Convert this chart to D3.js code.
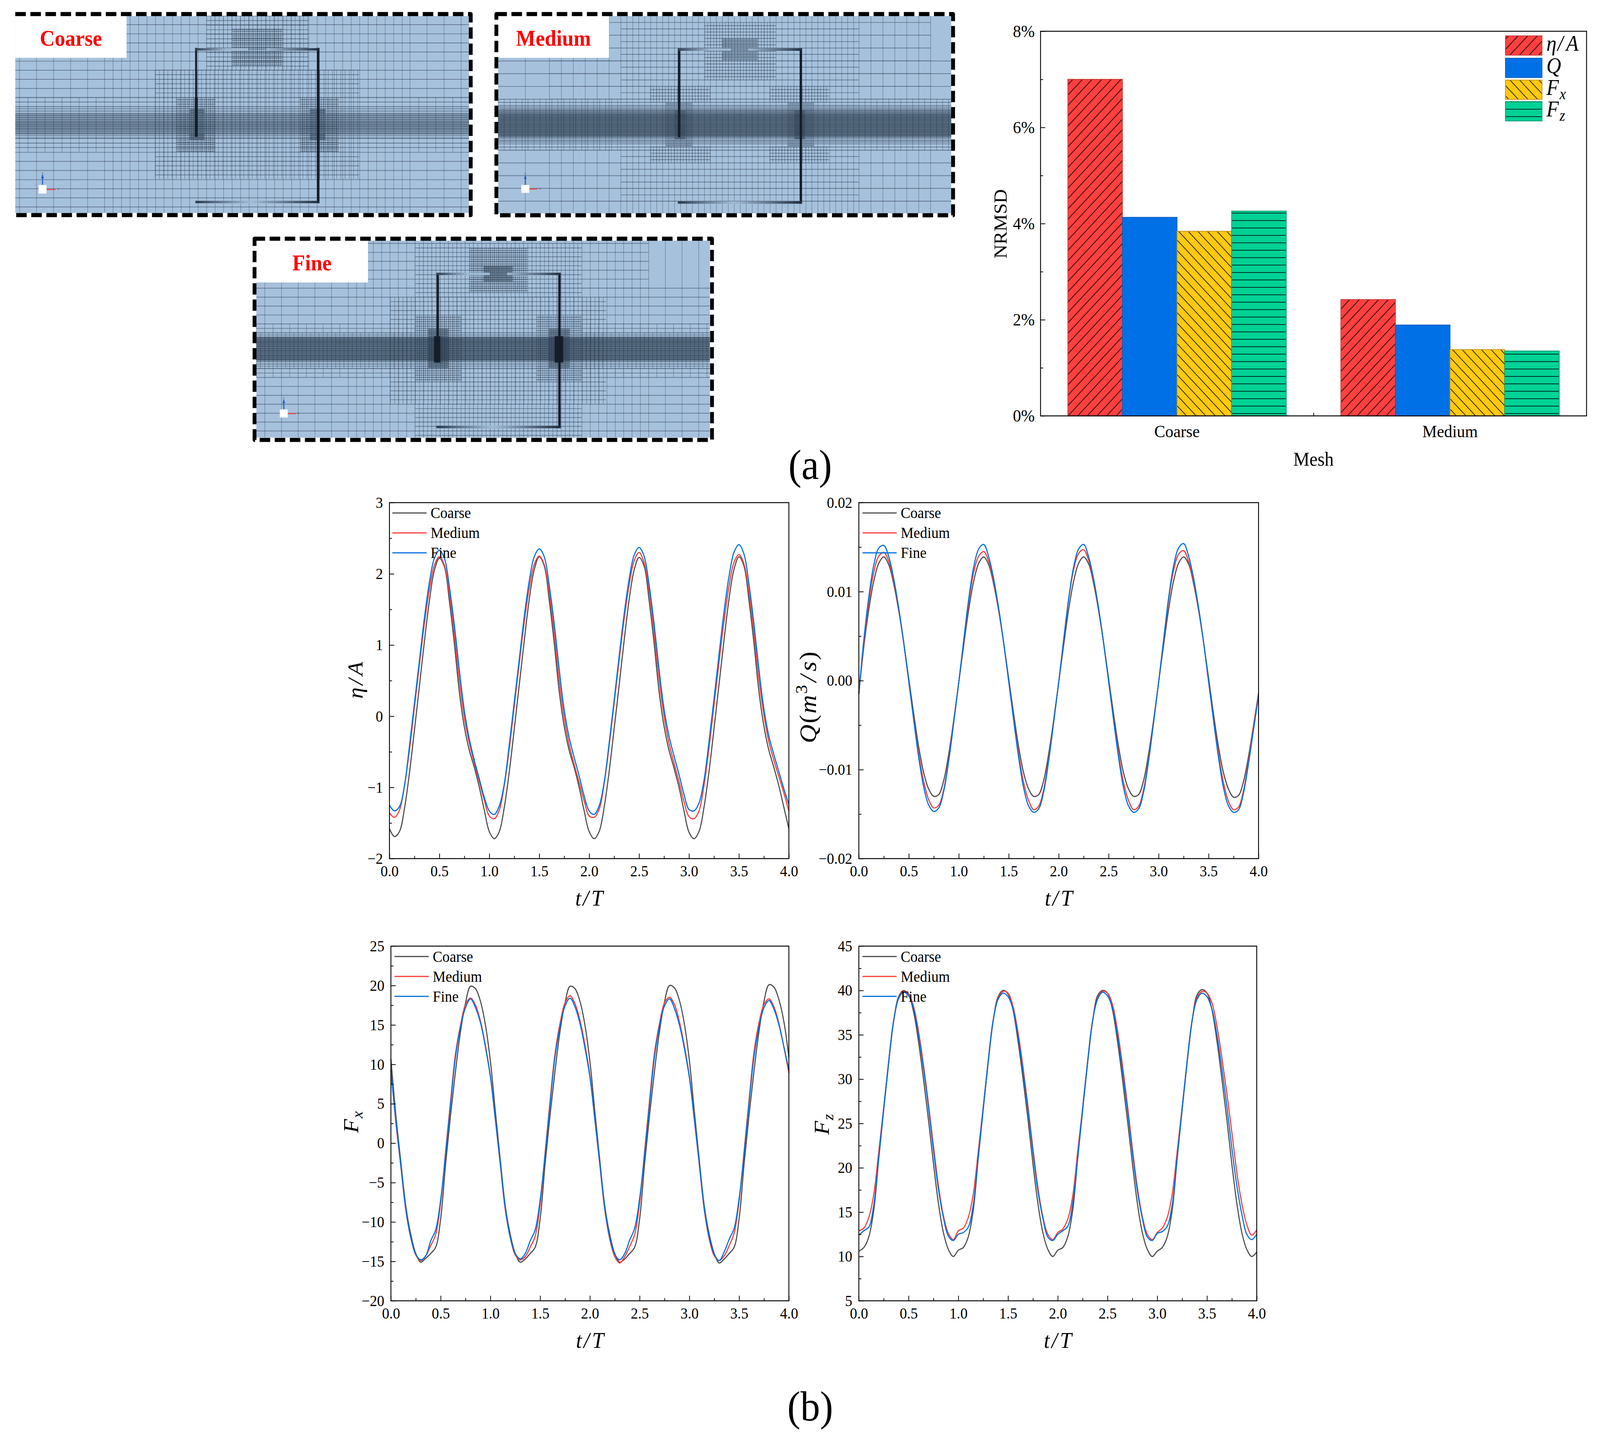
<!DOCTYPE html>
<html>
<head>
<meta charset="utf-8">
<script src="https://d3js.org/d3.v7.min.js"></script>
<style>
html, body { margin: 0; padding: 0; background: #fff; overflow: hidden; }
text { font-family: "Liberation Serif", serif; fill: #000; }
.domain { display: none; }
</style>
</head>
<body>
<script>
// ---- bar chart values (percent) ----
var meshNames = ["Coarse", "Medium"];
var barKeys = ["eta", "q", "fx", "fz"];
var nrmsdEta = [7.0, 2.42];
var nrmsdQ = [4.13, 1.89];
var nrmsdFx = [3.84, 1.38];
var nrmsdFz = [4.26, 1.35];

// ---- time histories, sampled every 0.05 t/T ----
var tValues = d3.range(81).map(function (i) { return i * 0.05; });

var etaCoarse = [-1.58,-1.69,-1.62,-1.30,-0.80,-0.20,0.42,1.05,1.62,2.05,2.22,2.10,1.62,1.02,0.34,-0.15,-0.48,-0.72,-1.00,-1.32,-1.62,
  -1.72,-1.62,-1.28,-0.78,-0.18,0.44,1.06,1.64,2.06,2.24,2.11,1.63,1.03,0.35,-0.14,-0.48,-0.72,-1.00,-1.33,-1.62,
  -1.72,-1.62,-1.28,-0.78,-0.18,0.43,1.06,1.63,2.05,2.23,2.11,1.63,1.03,0.35,-0.14,-0.48,-0.73,-1.00,-1.33,-1.63,
  -1.72,-1.62,-1.28,-0.78,-0.18,0.44,1.06,1.64,2.06,2.24,2.11,1.63,1.03,0.35,-0.14,-0.48,-0.72,-0.98,-1.28,-1.58];
var etaMedium = [-1.36,-1.42,-1.32,-0.98,-0.48,0.12,0.72,1.30,1.78,2.12,2.24,2.12,1.72,1.15,0.50,-0.02,-0.38,-0.66,-0.92,-1.18,-1.40,
  -1.44,-1.32,-0.97,-0.46,0.14,0.74,1.32,1.80,2.13,2.25,2.13,1.73,1.16,0.50,-0.02,-0.40,-0.68,-0.93,-1.19,-1.40,
  -1.42,-1.31,-0.95,-0.42,0.18,0.78,1.36,1.84,2.18,2.30,2.16,1.76,1.18,0.52,0.00,-0.38,-0.66,-0.92,-1.20,-1.41,
  -1.44,-1.33,-0.97,-0.45,0.15,0.75,1.33,1.82,2.16,2.27,2.14,1.74,1.17,0.52,0.02,-0.36,-0.62,-0.85,-1.08,-1.33];
var etaFine = [-1.25,-1.33,-1.27,-0.98,-0.42,0.18,0.78,1.38,1.88,2.22,2.33,2.22,1.82,1.28,0.65,0.08,-0.32,-0.62,-0.88,-1.14,-1.33,
  -1.38,-1.26,-0.95,-0.40,0.20,0.80,1.40,1.90,2.24,2.35,2.24,1.84,1.30,0.66,0.09,-0.30,-0.58,-0.84,-1.12,-1.33,
  -1.38,-1.26,-0.93,-0.38,0.22,0.84,1.43,1.92,2.26,2.37,2.25,1.85,1.30,0.66,0.10,-0.28,-0.56,-0.82,-1.10,-1.31,
  -1.33,-1.22,-0.90,-0.36,0.24,0.86,1.46,1.96,2.30,2.41,2.28,1.86,1.30,0.66,0.10,-0.28,-0.54,-0.78,-1.02,-1.24];

var qCoarse = [-0.0015,0.0038,0.0080,0.0112,0.0132,0.0139,0.0130,0.0108,0.0078,0.0042,0.0002,-0.0038,-0.0075,-0.0104,-0.0122,-0.0130,-0.0128,-0.0112,-0.0082,-0.0044,-0.0002,
  0.0040,0.0080,0.0112,0.0132,0.0139,0.0130,0.0108,0.0078,0.0042,0.0002,-0.0038,-0.0075,-0.0104,-0.0122,-0.0130,-0.0128,-0.0112,-0.0082,-0.0044,-0.0002,
  0.0040,0.0080,0.0112,0.0132,0.0139,0.0131,0.0109,0.0078,0.0042,0.0002,-0.0038,-0.0075,-0.0104,-0.0122,-0.0130,-0.0128,-0.0112,-0.0082,-0.0044,-0.0002,
  0.0040,0.0080,0.0112,0.0132,0.0139,0.0131,0.0109,0.0079,0.0043,0.0003,-0.0038,-0.0075,-0.0104,-0.0122,-0.0131,-0.0129,-0.0113,-0.0085,-0.0050,-0.0014];
var qMedium = [-0.0015,0.0042,0.0088,0.0122,0.0140,0.0144,0.0134,0.0111,0.0080,0.0042,-0.0001,-0.0044,-0.0083,-0.0114,-0.0134,-0.0143,-0.0140,-0.0122,-0.0088,-0.0046,-0.0002,
  0.0044,0.0088,0.0122,0.0140,0.0145,0.0134,0.0111,0.0080,0.0042,-0.0001,-0.0044,-0.0083,-0.0115,-0.0135,-0.0145,-0.0141,-0.0122,-0.0088,-0.0046,-0.0002,
  0.0046,0.0091,0.0125,0.0143,0.0147,0.0135,0.0112,0.0080,0.0042,-0.0001,-0.0044,-0.0083,-0.0115,-0.0135,-0.0145,-0.0141,-0.0122,-0.0088,-0.0046,-0.0002,
  0.0045,0.0090,0.0124,0.0142,0.0146,0.0134,0.0112,0.0081,0.0043,-0.0001,-0.0044,-0.0083,-0.0115,-0.0136,-0.0145,-0.0142,-0.0123,-0.0090,-0.0052,-0.0015];
var qFine = [-0.0015,0.0046,0.0094,0.0130,0.0149,0.0152,0.0139,0.0114,0.0081,0.0042,-0.0001,-0.0045,-0.0087,-0.0120,-0.0140,-0.0147,-0.0143,-0.0124,-0.0090,-0.0047,-0.0002,
  0.0046,0.0092,0.0128,0.0148,0.0153,0.0139,0.0114,0.0081,0.0042,-0.0001,-0.0045,-0.0087,-0.0121,-0.0141,-0.0148,-0.0144,-0.0125,-0.0090,-0.0047,-0.0002,
  0.0046,0.0092,0.0128,0.0148,0.0153,0.0139,0.0114,0.0081,0.0042,-0.0001,-0.0045,-0.0087,-0.0121,-0.0141,-0.0148,-0.0144,-0.0125,-0.0090,-0.0047,-0.0002,
  0.0046,0.0093,0.0129,0.0149,0.0154,0.0140,0.0115,0.0082,0.0043,-0.0001,-0.0045,-0.0087,-0.0121,-0.0141,-0.0148,-0.0145,-0.0126,-0.0093,-0.0055,-0.0017];

var fxCoarse = [10.7,3.5,-2.4,-8.0,-11.6,-14.0,-15.1,-14.6,-14.0,-13.2,-9.6,-2.6,3.6,9.2,14.2,17.8,19.9,19.6,18.0,15.0,10.4,
  4.0,-2.2,-8.0,-11.6,-14.0,-15.1,-14.7,-14.0,-13.2,-9.6,-2.6,3.6,9.2,14.2,17.8,19.9,19.6,18.0,15.0,10.4,
  4.0,-2.2,-8.0,-11.6,-14.0,-15.1,-14.7,-14.0,-13.2,-9.6,-2.6,3.6,9.2,14.2,17.9,20.0,19.7,18.1,15.1,10.5,
  4.0,-2.2,-8.0,-11.6,-14.0,-15.2,-14.7,-14.0,-13.2,-9.6,-2.6,3.6,9.2,14.2,18.0,20.1,19.8,18.2,15.4,10.9];
var fxMedium = [9.3,2.6,-3.0,-8.5,-12.0,-14.2,-14.9,-14.3,-13.0,-11.6,-7.6,-1.0,5.4,11.4,15.0,17.6,18.4,17.5,15.5,12.4,8.5,
  3.0,-2.8,-8.5,-12.0,-14.2,-14.8,-14.4,-13.2,-11.8,-7.8,-1.2,5.4,11.4,15.2,17.8,18.7,17.7,15.6,12.5,8.6,
  3.0,-2.8,-8.5,-12.2,-14.4,-15.2,-14.4,-13.1,-11.6,-7.6,-1.0,5.5,11.5,15.2,17.8,18.5,17.6,15.4,12.3,8.5,
  3.0,-2.8,-8.5,-12.2,-14.3,-14.9,-14.3,-13.0,-11.4,-7.4,-1.0,5.5,11.6,15.3,17.6,18.3,17.3,15.2,12.2,8.9];
var fxFine = [9.2,2.8,-2.8,-8.4,-12.0,-14.1,-14.8,-14.3,-12.4,-11.0,-7.2,-1.4,5.0,11.0,14.8,17.2,18.3,17.2,15.3,12.2,8.4,
  3.0,-2.6,-8.3,-12.0,-14.0,-14.7,-14.0,-12.4,-11.0,-7.2,-1.4,5.0,11.0,14.8,17.4,18.4,17.3,15.2,12.1,8.4,
  3.0,-2.6,-8.3,-12.0,-14.1,-14.8,-14.0,-12.3,-10.8,-7.0,-1.4,5.0,11.0,14.9,17.4,18.3,17.1,15.0,12.0,8.3,
  3.0,-2.6,-8.3,-12.0,-14.1,-14.9,-13.8,-12.2,-10.8,-7.0,-1.4,5.1,11.0,14.8,17.2,18.1,17.0,15.0,12.2,9.3];

var fzCoarse = [10.6,11.0,12.2,15.2,21.0,26.5,31.8,36.5,39.3,40.0,39.5,37.6,34.2,30.0,25.4,20.5,16.0,12.7,10.8,10.0,10.7,
  11.0,12.2,15.2,21.0,26.5,31.8,36.5,39.3,40.0,39.6,37.8,34.3,30.1,25.5,20.5,16.0,12.7,10.8,10.0,10.7,
  11.0,12.2,15.2,21.0,26.5,31.8,36.5,39.4,40.0,39.7,37.8,34.3,30.0,25.4,20.5,16.0,12.7,10.8,10.0,10.6,
  11.0,12.2,15.2,21.0,26.5,31.8,36.5,39.5,40.1,39.7,37.8,34.3,30.0,25.4,20.4,16.0,12.7,10.8,10.0,10.5];
var fzMedium = [12.9,13.2,14.4,17.0,21.8,26.8,32.0,36.6,39.1,39.9,39.6,38.2,35.4,31.6,27.2,22.5,18.0,14.6,12.6,11.9,12.9,
  13.2,14.4,17.0,21.8,26.8,32.0,36.6,39.1,39.9,39.7,38.2,35.3,31.4,27.0,22.2,17.8,14.5,12.5,11.9,12.7,
  13.1,14.2,16.8,21.8,26.8,32.0,36.6,39.1,39.9,39.7,38.4,35.5,31.6,27.1,22.2,17.8,14.5,12.5,11.9,12.7,
  13.2,14.4,17.0,21.8,26.8,32.0,36.6,39.2,39.9,39.7,38.6,36.0,32.4,28.4,24.0,19.5,16.0,13.6,12.4,13.0];
var fzFine = [12.4,12.9,13.3,15.8,21.2,26.7,32.0,36.6,39.1,39.8,39.4,38.0,35.0,31.2,26.8,22.0,17.6,14.4,12.3,11.8,12.5,
  12.7,13.3,15.8,21.2,26.7,32.0,36.6,39.0,39.7,39.3,37.9,34.9,31.0,26.6,21.8,17.4,14.3,12.2,11.8,12.5,
  12.9,13.4,16.0,21.2,26.7,32.0,36.6,39.0,39.8,39.4,38.0,35.0,31.0,26.6,21.8,17.4,14.3,12.2,11.8,12.6,
  12.8,13.4,15.8,21.2,26.7,32.0,36.6,39.0,39.7,39.3,37.9,35.0,31.2,26.9,22.2,18.0,14.8,12.5,11.9,12.5];

var seriesNames = ["Coarse", "Medium", "Fine"];
var seriesColors = ["#4d4d4d", "#ff3b3b", "#0070e0"];

// mesh refinement zones, in each picture's own mesh units: [x0, x1, y0, y1, dx, dy]
var coarseZones = [
  [60,322,388,1425,52.5,0], [322,1263,107,1425,26.2,0], [1263,1445,107,1425,52.5,0],
  [47,1445,165,1425,0,61], [478,1106,469,1198,13,30.5], [636,950,107,470,13,30.5],
  [715,870,195,440,6.5,15], [86,322,652,1015,52.5,0], [1290,1445,652,1015,52.5,0],
  [47,1445,652,1015,0,30.5], [47,1445,728,930,0,15], [47,1445,760,900,0,7.5],
  [545,662,652,1015,6.5,15], [925,1042,652,1015,6.5,15], [585,630,730,935,3.25,7.5], [955,1002,730,935,3.25,7.5]
];
var mediumZones = [
  [102,182,368,1500,80,0], [182,419,60,1500,39.6,0], [419,1209,60,1500,19.8,0], [1209,1447,60,1500,39.6,0],
  [12,1515,388,1500,0,93], [182,1447,107,1412,0,93.2], [419,1209,107,1412,0,46.6],
  [697,933,107,528,9.9,23.3], [755,872,225,385,5,11.6],
  [517,715,574,690,9.9,23.3], [913,1110,574,690,9.9,23.3], [517,715,1015,1132,9.9,23.3], [913,1110,1015,1132,9.9,23.3],
  [568,655,690,1015,5,11.6], [973,1060,690,1015,5,11.6], [598,632,748,958,2.5,6], [996,1030,748,958,2.5,6],
  [12,419,667,1040,19.8,0], [1209,1515,667,1040,19.8,0],
  [12,1515,667,1040,0,23.3], [12,1515,713,985,0,11.6], [12,1515,745,945,0,5.8]
];
var fineZones = [
  [58,335,347,1457,55.4,0], [335,1332,45,1457,27.7,0], [1332,1535,45,1457,55.4,0],
  [30,1535,386,1457,0,64], [400,1332,65,386,0,64],
  [557,1110,65,450,13.85,32], [475,1190,450,1217,13.85,32], [557,1110,1217,1457,13.85,32],
  [738,930,100,415,6.9,16], [785,880,225,340,3.5,8],
  [557,710,578,1055,6.9,16], [960,1110,578,1055,6.9,16],
  [600,668,675,955,3.5,8], [1000,1070,675,955,3.5,8], [620,645,730,918,1.75,4], [1020,1048,730,918,1.75,4],
  [30,557,642,1025,27.7,0], [1110,1535,642,1025,27.7,0], [30,557,705,962,13.85,0], [1110,1535,705,962,13.85,0],
  [30,1535,642,1025,0,32], [30,1535,705,962,0,16], [30,1535,735,915,0,8]
];

// the window can come out narrower than asked, so the drawing fills whatever it gets
var svg = d3.select("body").append("svg")
    .attr("viewBox", "0 0 4400 3673")
    .attr("preserveAspectRatio", "none")
    .style("width", "100vw")
    .style("height", "100vh")
    .style("display", "block");

var defs = svg.append("defs");

function hatch(id, color, size, d) {
    var p = defs.append("pattern")
        .attr("id", id)
        .attr("patternUnits", "userSpaceOnUse")
        .attr("width", size)
        .attr("height", size);
    p.append("rect").attr("width", size).attr("height", size).attr("fill", color);
    if (d) p.append("path").attr("d", d).attr("stroke", "#000").attr("stroke-width", 1.6).attr("fill", "none");
}
hatch("h-eta", "#ff4040", 26.5, "M-2,2L2,-2M0,26.5L26.5,0M24.5,28.5L28.5,24.5");
hatch("h-q", "#0070e6", 26.5, null);
hatch("h-fx", "#ffc90f", 26.5, "M-2,24.5L2,28.5M0,0L26.5,26.5M24.5,-2L28.5,2");
hatch("h-fz", "#00d296", 19, "M0,9.5H19");

var barStroke = { eta: "#c83a3a", q: "#0a5fc0", fx: "#c8981a", fz: "#0c9a76" };

function gradient(id, stops) {
    var g = defs.append("linearGradient").attr("id", id);
    stops.forEach(function (s) {
        g.append("stop").attr("offset", s[0]).attr("stop-color", s[1]);
    });
}
gradient("plate1", [[0, "#2a3a4c"], [0.15, "#566a82"], [0.45, "#a0bbd6"], [0.7, "#6a7e96"], [1, "#1f2d3d"]]);
gradient("plate2", [[0, "#2f4054"], [0.3, "#6a7e96"], [0.6, "#9fb9d4"], [1, "#a0bbd6"]]);
gradient("plate3", [[0, "#a0bbd6"], [0.3, "#7d92aa"], [0.7, "#4b5e74"], [1, "#1f2d3d"]]);

// ---- mesh pictures ----
function drawMesh(m) {
    var x = d3.scaleLinear().domain(m.xDomain).range(m.xRange);
    var y = d3.scaleLinear().domain(m.yDomain).range(m.yRange);
    var g = svg.append("g");

    g.append("rect")
        .attr("x", m.xRange[0]).attr("y", m.yRange[0])
        .attr("width", m.xRange[1] - m.xRange[0])
        .attr("height", m.yRange[1] - m.yRange[0])
        .attr("fill", "#a6c1dc");

    // the wave band is too fine to resolve as single lines
    g.append("rect")
        .attr("x", m.xRange[0]).attr("y", y(m.band[0]))
        .attr("width", m.xRange[1] - m.xRange[0])
        .attr("height", y(m.band[1]) - y(m.band[0]))
        .attr("fill", "#2b3d52").attr("fill-opacity", m.band[2]);

    var vPath = d3.path(), hPath = d3.path();
    m.zones.forEach(function (z) {
        if (z[4]) d3.range(z[0], z[1] + 0.01, z[4]).forEach(function (v) {
            vPath.moveTo(x(v), y(z[2]));
            vPath.lineTo(x(v), y(z[3]));
        });
        if (z[5]) d3.range(z[2], z[3] + 0.01, z[5]).forEach(function (v) {
            hPath.moveTo(x(z[0]), y(v));
            hPath.lineTo(x(z[1]), y(v));
        });
    });
    g.append("path").attr("d", vPath.toString()).attr("fill", "none")
        .attr("stroke", "#1a2838").attr("stroke-width", 1.1).attr("stroke-opacity", 0.5);
    g.append("path").attr("d", hPath.toString()).attr("fill", "none")
        .attr("stroke", "#1a2838").attr("stroke-width", 1.7).attr("stroke-opacity", 0.5);

    // walls and plates of the device
    m.walls.forEach(function (w) {
        g.append("rect")
            .attr("x", x(w[0])).attr("y", y(w[1]))
            .attr("width", x(w[2]) - x(w[0])).attr("height", y(w[3]) - y(w[1]))
            .attr("fill", w[4] ? "url(#plate" + w[4] + ")" : "#141e2a");
    });

    // white corner with the mesh name
    g.append("rect")
        .attr("x", m.label.x0).attr("y", m.yRange[0] - 1)
        .attr("width", m.label.x1 - m.label.x0).attr("height", m.label.h)
        .attr("fill", "#fff");
    g.append("text")
        .attr("x", m.label.cx).attr("y", m.label.cy)
        .attr("text-anchor", "middle").attr("dominant-baseline", "central")
        .style("font-size", "57px").style("font-weight", "bold").style("fill", "#ff0000")
        .text(m.name);

    // small orientation triad
    var a = m.triad;
    g.append("line").attr("x1", x(a[0])).attr("x2", x(a[0])).attr("y1", y(a[1])).attr("y2", y(a[1] - 70))
        .attr("stroke", "#1f5fc8").attr("stroke-width", 3);
    g.append("path").attr("fill", "#1f5fc8")
        .attr("d", "M" + (x(a[0]) - 4) + "," + y(a[1] - 45) + "L" + x(a[0]) + "," + y(a[1] - 70) + "L" + (x(a[0]) + 4) + "," + y(a[1] - 45) + "Z");
    g.append("line").attr("x1", x(a[0])).attr("x2", x(a[0] + 40)).attr("y1", y(a[1] + 30)).attr("y2", y(a[1] + 30))
        .attr("stroke", "#e85050").attr("stroke-width", 3);
    g.append("rect")
        .attr("x", x(a[0]) - 11).attr("y", y(a[1]))
        .attr("width", 22).attr("height", y(a[1] + 58) - y(a[1]))
        .attr("fill", "#fff").attr("stroke", "#c8d4e0").attr("stroke-width", 1);
    g.append("text").attr("x", x(a[0])).attr("y", y(a[1] - 75)).attr("text-anchor", "middle")
        .style("font-size", "9px").style("fill", "#445").text("z");
    g.append("text").attr("x", x(a[0] + 46)).attr("y", y(a[1] + 34))
        .style("font-size", "9px").style("fill", "#445").text("x");

    g.append("path")
        .attr("d", m.border)
        .attr("fill", "none")
        .attr("stroke", "#000")
        .attr("stroke-width", 10.5)
        .attr("stroke-linejoin", "round")
        .attr("stroke-dasharray", "29 12.5");
}

drawMesh({
    name: "Coarse", zones: coarseZones, band: [810, 870, 0.14],
    xDomain: [47, 1445], xRange: [42, 1290], yDomain: [107, 1425], yRange: [41, 545],
    walls: [[600,650,609,915], [601,320,607,650], [976,320,984,1360], [602,322,765,338,2], [820,322,984,338,3], [602,1344,984,1360,1]],
    label: { x0: 42, x1: 348, h: 108, cx: 195, cy: 98 },
    triad: [131, 1238],
    border: "M42,36H1294.5V550.5H42"
});
drawMesh({
    name: "Medium", zones: mediumZones, band: [775, 935, 0.32],
    xDomain: [12, 1515], xRange: [1370, 2616], yDomain: [60, 1500], yRange: [41, 546],
    walls: [[608,296,616,945], [1012,296,1020,1430], [608,296,785,314,2], [842,296,1020,314,3], [608,1412,1020,1430,1]],
    label: { x0: 1360, x1: 1675, h: 108, cx: 1522, cy: 98 },
    triad: [102, 1293],
    border: "M1365,36H2621V551H1365Z"
});
drawMesh({
    name: "Fine", zones: fineZones, band: [740, 905, 0.42],
    xDomain: [30, 1535], xRange: [705, 1952], yDomain: [45, 1457], yRange: [616, 1120],
    walls: [[620,730,640,918], [1020,730,1048,918], [628,275,636,918], [1032,275,1040,1390], [628,275,805,292,2], [862,275,1040,292,3], [628,1372,1040,1390,1]],
    label: { x0: 700, x1: 1012, h: 108, cx: 858, cy: 673 },
    triad: [121, 1255],
    border: "M700,611H1958V1126H700Z"
});

// ---- math style labels ----
function mathText(parent, parts, size) {
    var t = parent.append("text").style("font-size", size + "px");
    parts.forEach(function (p) {
        var s = t.append("tspan").text(p.t);
        if (!p.plain) s.style("font-style", "italic");
        if (p.sub) s.attr("dy", size * 0.2).style("font-size", (size * 0.7) + "px");
        if (p.sup) s.attr("dy", -size * 0.38).style("font-size", (size * 0.7) + "px");
        if (p.back) s.attr("dy", size * p.back);
        if (p.dx) s.attr("dx", p.dx);
    });
    return t;
}

// ---- bar chart ----
(function () {
    var margin = { left: 2861.5, top: 80 };
    var width = 1501.5, height = 984.5;
    var g = svg.append("g").attr("transform", "translate(" + margin.left + "," + margin.top + ")");

    var x = d3.scaleBand().domain(meshNames).range([0, width]);
    var sub = d3.scaleBand().domain(barKeys).range([0, x.bandwidth()]).paddingOuter(0.5);
    var y = d3.scaleLinear().domain([0, 8]).range([height, 0]);

    var values = { eta: nrmsdEta, q: nrmsdQ, fx: nrmsdFx, fz: nrmsdFz };

    barKeys.forEach(function (k) {
        g.selectAll(".bar-" + k)
            .data(values[k])
            .enter().append("rect")
            .attr("x", function (d, i) { return x(meshNames[i]) + sub(k); })
            .attr("y", function (d) { return y(d); })
            .attr("width", sub.bandwidth())
            .attr("height", function (d) { return height - y(d); })
            .attr("fill", "url(#h-" + k + ")")
            .attr("stroke", barStroke[k])
            .attr("stroke-width", 2);
    });

    g.append("g").attr("transform", "translate(0," + height + ")")
        .call(d3.axisBottom(x).tickSize(0).tickPadding(23))
        .selectAll("text").style("font-size", "45px").style("font-family", "Liberation Serif");
    g.append("g").attr("transform", "translate(0," + height + ")")
        .call(d3.axisBottom(d3.scaleLinear().domain([0, 1]).range([0, width])).tickValues([0.5]).tickSize(-8).tickFormat(""));
    g.append("g")
        .call(d3.axisLeft(y).tickValues([0, 2, 4, 6, 8]).tickSize(-13).tickPadding(16)
            .tickFormat(function (d) { return d + "%"; }))
        .selectAll("text").style("font-size", "45px").style("font-family", "Liberation Serif");
    g.append("g")
        .call(d3.axisLeft(y).tickValues([1, 3, 5, 7]).tickSize(-7).tickFormat(""));
    g.selectAll(".tick line").attr("stroke", "#000").attr("stroke-width", 2);

    g.append("rect").attr("width", width).attr("height", height)
        .attr("fill", "none").attr("stroke", "#000").attr("stroke-width", 2.4);

    g.append("text").attr("x", width / 2).attr("y", 1095)
        .attr("text-anchor", "middle").attr("dominant-baseline", "central")
        .style("font-size", "50px").text("Mesh");
    g.append("text")
        .attr("transform", "translate(" + (2751 - margin.left) + "," + (573 - margin.top) + ") rotate(-90)")
        .attr("text-anchor", "middle").attr("dominant-baseline", "central")
        .style("font-size", "50px").text("NRMSD");

    // legend
    var legendParts = {
        eta: [{ t: "\u03b7" }, { t: "/", dx: 3 }, { t: "A", dx: 8 }],
        q: [{ t: "Q" }],
        fx: [{ t: "F" }, { t: "x", sub: true, dx: 2 }],
        fz: [{ t: "F" }, { t: "z", sub: true, dx: 2 }]
    };
    var legendTop = [11.7, 69, 125, 180];
    var legendBase = [50, 107, 163, 218];
    barKeys.forEach(function (k, i) {
        g.append("rect")
            .attr("x", 1278.5).attr("y", legendTop[i])
            .attr("width", 100.5).attr("height", 49.5)
            .attr("fill", "url(#h-" + k + ")")
            .attr("stroke", barStroke[k]).attr("stroke-width", 2);
        mathText(g, legendParts[k], 56)
            .attr("transform", "translate(1391," + legendBase[i] + ")");
    });
})();

// ---- time history panels ----
var xMajor = [0, 0.5, 1, 1.5, 2, 2.5, 3, 3.5, 4];
var xMinor = [0.25, 0.75, 1.25, 1.75, 2.25, 2.75, 3.25, 3.75];

function drawPanel(p) {
    var width = p.right - p.left, height = p.bottom - p.top;
    var g = svg.append("g").attr("transform", "translate(" + p.left + "," + p.top + ")");

    var x = d3.scaleLinear().domain([0, 4]).range([0, width]);
    var y = d3.scaleLinear().domain(p.yDomain).range([height, 0]);

    var line = d3.line()
        .x(function (d, i) { return x(tValues[i]); })
        .y(function (d) { return y(d); })
        .curve(d3.curveCatmullRom);

    p.series.forEach(function (s, i) {
        g.append("path")
            .datum(s)
            .attr("fill", "none")
            .attr("stroke", seriesColors[i])
            .attr("stroke-width", 3)
            .attr("d", line);
    });

    var xAxis = g.append("g").attr("transform", "translate(0," + height + ")")
        .call(d3.axisBottom(x).tickValues(xMajor).tickSize(-13).tickPadding(17).tickFormat(d3.format(".1f")));
    xAxis.selectAll("text").style("font-size", "40px").style("font-family", "Liberation Serif");
    g.append("g").attr("transform", "translate(0," + height + ")")
        .call(d3.axisBottom(x).tickValues(xMinor).tickSize(-7).tickFormat(""));

    var yAxis = g.append("g")
        .call(d3.axisLeft(y).tickValues(p.yMajor).tickSize(-13).tickPadding(18).tickFormat(p.yFormat));
    yAxis.selectAll("text").style("font-size", "40px").style("font-family", "Liberation Serif");
    g.append("g")
        .call(d3.axisLeft(y).tickValues(p.yMinor).tickSize(-7).tickFormat(""));
    g.selectAll(".tick line").attr("stroke", "#000").attr("stroke-width", 2);

    g.append("rect").attr("width", width).attr("height", height)
        .attr("fill", "none").attr("stroke", "#000").attr("stroke-width", 2.4);

    // legend
    seriesNames.forEach(function (name, i) {
        var ly = 26.5 + i * 51;
        g.append("line")
            .attr("x1", p.legendX).attr("x2", p.legendX + 94)
            .attr("y1", ly).attr("y2", ly)
            .attr("stroke", seriesColors[i]).attr("stroke-width", 3);
        g.append("text")
            .attr("x", p.legendX + 105).attr("y", ly)
            .attr("dominant-baseline", "central")
            .style("font-size", "40px").text(name);
    });

    mathText(g, [{ t: "t" }, { t: "/", dx: 5 }, { t: "T", dx: 7 }], 58)
        .attr("text-anchor", "middle")
        .attr("transform", "translate(" + (width / 2) + "," + (height + 120) + ")");

    mathText(g, p.yLabel, p.yLabelSize || 58)
        .attr("text-anchor", "middle")
        .attr("transform", "translate(" + (p.yLabelX - p.left) + "," + (p.yLabelY - p.top) + ") rotate(-90)");
}

var fmtInt = d3.format("d");

drawPanel({
    left: 1071, right: 2169.4, top: 1286.5, bottom: 2197.7, legendX: 8,
    yDomain: [-2, 3], yMajor: [-2, -1, 0, 1, 2, 3], yMinor: [-1.5, -0.5, 0.5, 1.5, 2.5], yFormat: fmtInt,
    series: [etaCoarse, etaMedium, etaFine],
    yLabelX: 997, yLabelY: 1741,
    yLabel: [{ t: "\u03b7" }, { t: "/", dx: 6 }, { t: "A", dx: 8 }]
});
drawPanel({
    left: 2361.8, right: 3461, top: 1286.5, bottom: 2197.7, legendX: 10,
    yDomain: [-0.02, 0.02], yMajor: [-0.02, -0.01, 0, 0.01, 0.02], yMinor: [-0.015, -0.005, 0.005, 0.015], yFormat: d3.format(".2f"),
    series: [qCoarse, qMedium, qFine],
    yLabelX: 2244, yLabelY: 1785, yLabelSize: 66,
    yLabel: [{ t: "Q" }, { t: "(", plain: true, dx: 3 }, { t: "m", dx: 3 }, { t: "3", plain: true, sup: true, dx: 3 },
        { t: "/", back: 0.38, dx: 7 }, { t: "s", dx: 9 }, { t: ")", plain: true, dx: 3 }]
});
drawPanel({
    left: 1075, right: 2169.4, top: 2421.7, bottom: 3329.5, legendX: 10,
    yDomain: [-20, 25], yMajor: d3.range(-20, 26, 5), yMinor: d3.range(-17.5, 25, 5), yFormat: fmtInt,
    series: [fxCoarse, fxMedium, fxFine],
    yLabelX: 985, yLabelY: 2872,
    yLabel: [{ t: "F" }, { t: "x", sub: true, dx: 2 }]
});
drawPanel({
    left: 2361.8, right: 3456, top: 2421.7, bottom: 3329.5, legendX: 10,
    yDomain: [5, 45], yMajor: d3.range(5, 46, 5), yMinor: d3.range(7.5, 45, 5), yFormat: fmtInt,
    series: [fzCoarse, fzMedium, fzFine],
    yLabelX: 2280, yLabelY: 2878,
    yLabel: [{ t: "F" }, { t: "z", sub: true, dx: 2 }]
});

// panel captions
svg.append("text").attr("x", 2228).attr("y", 1190)
    .attr("text-anchor", "middle").attr("dominant-baseline", "central")
    .style("font-size", "108px").text("(a)");
svg.append("text").attr("x", 2228).attr("y", 3600)
    .attr("text-anchor", "middle").attr("dominant-baseline", "central")
    .style("font-size", "108px").text("(b)");
</script>
</body>
</html>
